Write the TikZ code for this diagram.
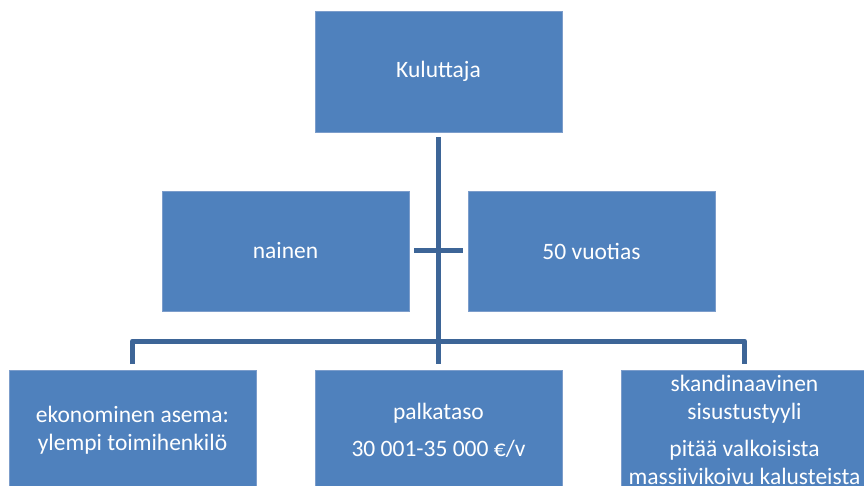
\documentclass[tikz,border=0pt]{standalone}
\usepackage{fontspec}
\setmainfont{Carlito}
\definecolor{boxfill}{HTML}{4F81BD}
\definecolor{boxedge}{HTML}{7C9DCB}
\definecolor{conncol}{HTML}{3D6597}
\tikzset{
  orgbox/.style={rectangle, fill=boxfill, draw=boxedge, line width=0.8pt,
    minimum width=247pt, minimum height=120pt, inner sep=0pt, outer sep=0pt,
    text=white, align=center, font=\fontsize{23.5}{28}\selectfont},
  conn/.style={draw=conncol, line width=5pt, line join=round}
}
\begin{document}
\begin{tikzpicture}[x=1pt,y=-1pt]
\clip (0,0) rectangle (864,486);
\fill[white] (0,0) rectangle (864,486);
\node[orgbox, minimum height=121pt] (k) at (438.5,71.5) {Kuluttaja};
\node[orgbox] (n) at (285.5,251) {nainen};
\node[orgbox] (v) at (591.5,251) {50 vuotias};
\node[orgbox] (b1) at (132.5,430) {ekonominen asema:\\ylempi toimihenkilö};
\node[orgbox] (b2) at (438.5,430) {palkataso\\[9pt]30 001-35 000 €/v};
\node[orgbox] (b3) at (744.5,430) {skandinaavinen\\sisustustyyli\\[9pt]pitää valkoisista\\massiivikoivu kalusteista};
\draw[conn] ([yshift=-5pt]k.south) -- ([yshift=6pt]k.south |- b2.north);
\draw[conn] ([xshift=5pt]n.east) -- ([xshift=-5pt]v.west);
\draw[conn] ([yshift=6pt]b1.north) -- ++(0,-23) -| ([yshift=6pt]b3.north);
\end{tikzpicture}
\end{document}
